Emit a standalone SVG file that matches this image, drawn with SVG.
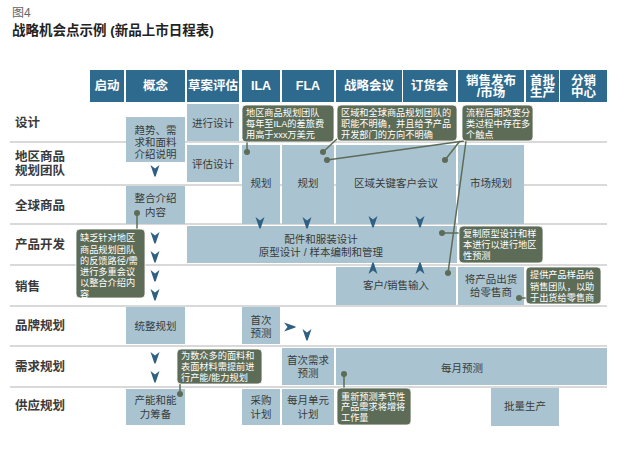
<svg xmlns="http://www.w3.org/2000/svg" xmlns:xlink="http://www.w3.org/1999/xlink" width="640" height="451" viewBox="0 0 640 451">
<style>
text{font-family:"Liberation Sans","Noto Sans CJK SC",sans-serif}
.hd rect{fill:#2e6a8e}
.hd text{fill:#fff;font-size:12.5px;font-weight:bold;text-anchor:middle;dominant-baseline:central}
.rl{fill:#3a3a3a;font-size:12.5px;font-weight:bold;dominant-baseline:central}
.gl{stroke:#b4b4b4;stroke-width:1.2}
.bx rect{fill:#a9c4d0}
.bx text{fill:#3a3a3a;font-size:10.5px;text-anchor:middle;dominant-baseline:central}
.co rect{fill:#5d6c57;stroke:#ffffff;stroke-width:0.8}
.co text{fill:#fff;font-size:9.2px;dominant-baseline:central}
.cl{stroke:#5d6c57;stroke-width:1.5;fill:none}
.dot{fill:#5d6c57}
.ar{fill:#2f5f82}
</style>
<defs>
<path id="ad" d="M-4.5,-6 L0,-2.5 L4.5,-6 L0.6,5.5 L-0.6,5.5 Z"/>
</defs>
<rect width="640" height="451" fill="#ffffff"/>
<text x="12" y="17" font-size="12" fill="#666">图4</text>
<text x="12" y="35" font-size="13.5" font-weight="bold" fill="#222">战略机会点示例 (新品上市日程表)</text>

<g id="grid">
<line class="gl" x1="10" y1="142" x2="607" y2="142"/>
<line class="gl" x1="10" y1="185" x2="607" y2="185"/>
<line class="gl" x1="10" y1="224" x2="607" y2="224"/>
<line class="gl" x1="10" y1="265" x2="607" y2="265"/>
<line class="gl" x1="10" y1="306" x2="607" y2="306"/>
<line class="gl" x1="10" y1="346" x2="607" y2="346"/>
<line class="gl" x1="10" y1="387" x2="607" y2="387"/>
</g>

<g id="header" class="hd">
<rect x="90" y="70" width="34" height="32"/><text x="107" y="86">启动</text>
<rect x="126" y="70" width="59" height="32"/><text x="155.5" y="86">概念</text>
<rect x="187" y="70" width="52" height="32"/><text x="213" y="86">草案评估</text>
<rect x="242" y="70" width="38" height="32"/><text x="261" y="86">ILA</text>
<rect x="282" y="70" width="52" height="32"/><text x="308" y="86">FLA</text>
<rect x="336" y="70" width="66" height="32"/><text x="369" y="86">战略会议</text>
<rect x="403" y="70" width="53" height="32"/><text x="429.5" y="86">订货会</text>
<rect x="458" y="70" width="66" height="32"/><text x="491" y="80.5">销售发布</text><text x="491" y="93">/市场</text>
<rect x="526" y="70" width="33" height="32"/><text x="542.5" y="80.5">首批</text><text x="542.5" y="93">生产</text>
<rect x="560" y="70" width="47" height="32"/><text x="583.5" y="80.5">分销</text><text x="583.5" y="93">中心</text>
</g>

<g id="rowlabels">
<text class="rl" x="15" y="123">设计</text>
<text class="rl" x="15" y="157">地区商品</text>
<text class="rl" x="15" y="171">规划团队</text>
<text class="rl" x="15" y="206">全球商品</text>
<text class="rl" x="15" y="245">产品开发</text>
<text class="rl" x="15" y="287">销售</text>
<text class="rl" x="15" y="326">品牌规划</text>
<text class="rl" x="15" y="367">需求规划</text>
<text class="rl" x="15" y="406">供应规划</text>
</g>

<g id="n-trend" class="bx"><rect x="126" y="117" width="59" height="45"/><text x="155.5" y="130">趋势、需</text><text x="155.5" y="142">求和面料</text><text x="155.5" y="154">介绍说明</text></g>
<g id="n-design" class="bx"><rect x="187" y="104" width="52" height="37"/><text x="213" y="123">进行设计</text></g>
<g id="n-eval" class="bx"><rect x="187" y="145" width="52" height="37"/><text x="213" y="164">评估设计</text></g>
<g id="n-ila-plan" class="bx"><rect x="242" y="145" width="38" height="79"/><text x="261" y="183">规划</text></g>
<g id="n-fla-plan" class="bx"><rect x="282" y="145" width="52" height="79"/><text x="308" y="183">规划</text></g>
<g id="n-keyacct" class="bx"><rect x="336" y="145" width="120" height="79"/><text x="396" y="183">区域关键客户会议</text></g>
<g id="n-mktplan" class="bx"><rect x="458" y="145" width="66" height="79"/><text x="491" y="183">市场规划</text></g>
<g id="n-integrate" class="bx"><rect x="126" y="186" width="59" height="38"/><text x="155.5" y="198">整合介绍</text><text x="155.5" y="212">内容</text></g>
<g id="n-proto" class="bx"><rect x="187" y="226" width="270" height="37"/><text x="321" y="239">配件和服装设计</text><text x="321" y="252">原型设计 / 样本编制和管理</text></g>
<g id="n-salesinput" class="bx"><rect x="336" y="267" width="120" height="38"/><text x="396" y="285">客户/销售输入</text></g>
<g id="n-ship" class="bx"><rect x="458" y="267" width="66" height="38"/><text x="491" y="279">将产品出货</text><text x="491" y="292">给零售商</text></g>
<g id="n-brand" class="bx"><rect x="126" y="307" width="59" height="37"/><text x="155.5" y="326">统整规划</text></g>
<g id="n-firstfc" class="bx"><rect x="242" y="307" width="38" height="37"/><text x="261" y="320">首次</text><text x="261" y="333">预测</text></g>
<g id="n-firstdemand" class="bx"><rect x="282" y="348" width="52" height="37"/><text x="308" y="360">首次需求</text><text x="308" y="373">预测</text></g>
<g id="n-monthlyfc" class="bx"><rect x="336" y="348" width="271" height="37"/><text x="462" y="368">每月预测</text></g>
<g id="n-capacity" class="bx"><rect x="126" y="389" width="59" height="36"/><text x="155.5" y="400">产能和能</text><text x="155.5" y="414">力筹备</text></g>
<g id="n-purchase" class="bx"><rect x="242" y="389" width="38" height="36"/><text x="261" y="400">采购</text><text x="261" y="414">计划</text></g>
<g id="n-unitplan" class="bx"><rect x="282" y="389" width="52" height="36"/><text x="308" y="400">每月单元</text><text x="308" y="414">计划</text></g>
<g id="n-bulk" class="bx"><rect x="491" y="388" width="68" height="38"/><text x="525" y="406">批量生产</text></g>

<g id="connectors">
<line class="cl" x1="247" y1="152" x2="247" y2="142"/>
<line class="cl" x1="323" y1="152" x2="337" y2="139"/>
<line class="cl" x1="327" y1="160" x2="464" y2="141"/>
<line class="cl" x1="445" y1="160" x2="460" y2="141"/>
<line class="cl" x1="448" y1="273" x2="466" y2="141"/>
<line class="cl" x1="137" y1="213" x2="137" y2="229"/>
<line class="cl" x1="442" y1="233" x2="459" y2="233"/>
<line class="cl" x1="519" y1="298" x2="526" y2="298"/>
<line class="cl" x1="180" y1="394" x2="180" y2="384"/>
<line class="cl" x1="344" y1="374" x2="344" y2="388"/>
<circle class="dot" cx="247" cy="152" r="3"/>
<circle class="dot" cx="323" cy="152" r="3"/>
<circle class="dot" cx="327" cy="160" r="3"/>
<circle class="dot" cx="445" cy="160" r="3"/>
<circle class="dot" cx="448" cy="273" r="3"/>
<circle class="dot" cx="137" cy="213" r="3"/>
<circle class="dot" cx="442" cy="233" r="3"/>
<circle class="dot" cx="519" cy="298" r="3"/>
<circle class="dot" cx="180" cy="394" r="3"/>
<circle class="dot" cx="344" cy="374" r="3"/>
<g class="ar">
<use xlink:href="#ad" href="#ad" x="155" y="171"/>
<use xlink:href="#ad" href="#ad" x="155" y="238"/>
<use xlink:href="#ad" href="#ad" x="155" y="257"/>
<use xlink:href="#ad" href="#ad" x="155" y="276"/>
<use xlink:href="#ad" href="#ad" x="155" y="295"/>
<use xlink:href="#ad" href="#ad" x="155" y="358"/>
<use xlink:href="#ad" href="#ad" x="155" y="377"/>
<use xlink:href="#ad" href="#ad" x="260" y="223"/>
<use xlink:href="#ad" href="#ad" x="307" y="223"/>
<use xlink:href="#ad" href="#ad" x="373" y="222"/>
<use xlink:href="#ad" href="#ad" x="420" y="222"/>
<use xlink:href="#ad" href="#ad" x="307" y="335"/>
<use xlink:href="#ad" href="#ad" transform="translate(373,268) rotate(180)"/>
<use xlink:href="#ad" href="#ad" transform="translate(420,268) rotate(180)"/>
<use xlink:href="#ad" href="#ad" transform="translate(290,327) rotate(-90)"/>
</g>
</g>

<g id="c-travel" class="co"><rect x="242" y="105" width="92" height="37" rx="4"/><text x="246" y="113">地区商品规划团队</text><text x="246" y="124">每年至ILA的差旅费</text><text x="246" y="135">用高于xxx万美元</text></g>
<g id="c-roles" class="co"><rect x="337" y="105" width="120" height="36" rx="4"/><text x="341" y="113">区域和全球商品规划团队的</text><text x="341" y="124">职能不明确，并且给予产品</text><text x="341" y="135">开发部门的方向不明确</text></g>
<g id="c-process" class="co"><rect x="462" y="105" width="71" height="36" rx="4"/><text x="466" y="113">流程后期改变分</text><text x="466" y="124">类过程中存在多</text><text x="466" y="135">个触点</text></g>
<g id="c-feedback" class="co"><rect x="76" y="229" width="69" height="69" rx="4"/><text x="80" y="238">缺乏针对地区</text><text x="80" y="250">商品规划团队</text><text x="80" y="261">的反馈路径/需</text><text x="80" y="272">进行多重会议</text><text x="80" y="283">以整合介绍内</text><text x="80" y="294">容</text></g>
<g id="c-copy" class="co"><rect x="459" y="226" width="84" height="37" rx="4"/><text x="463" y="234">复制原型设计和样</text><text x="463" y="245">本进行以进行地区</text><text x="463" y="256">性预测</text></g>
<g id="c-samples" class="co"><rect x="526" y="267" width="75" height="37" rx="4"/><text x="530" y="275">提供产品样品给</text><text x="530" y="287">销售团队，以助</text><text x="530" y="298">于出货给零售商</text></g>
<g id="c-fabric" class="co"><rect x="177" y="349" width="85" height="35" rx="4"/><text x="181" y="356">为数众多的面料和</text><text x="181" y="367">表面材料需提前进</text><text x="181" y="378">行产能/能力规划</text></g>
<g id="c-reforecast" class="co"><rect x="337" y="388" width="74" height="37" rx="4"/><text x="341" y="397">重新预测季节性</text><text x="341" y="407">产品需求将增将</text><text x="341" y="418">工作量</text></g>
</svg>
